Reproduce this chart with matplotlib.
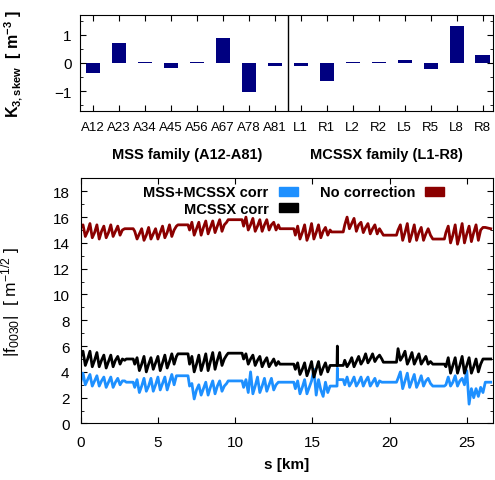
import matplotlib
matplotlib.use("Agg")
import matplotlib.pyplot as plt
from matplotlib.patches import Patch
from matplotlib.ticker import MultipleLocator

plt.rcParams['font.family'] = ['Liberation Sans', 'DejaVu Sans']
plt.rcParams['mathtext.fontset'] = 'custom'
plt.rcParams['mathtext.rm'] = 'Liberation Sans'
plt.rcParams['mathtext.it'] = 'Liberation Sans:italic'
plt.rcParams['mathtext.bf'] = 'Liberation Sans:bold'

# ---- top panel: skew octupole strengths per family ----
magnets = ['A12', 'A23', 'A34', 'A45', 'A56', 'A67', 'A78', 'A81',
           'L1', 'R1', 'L2', 'R2', 'L5', 'R5', 'L8', 'R8']
k3_skew = [-0.35, 0.70, 0.02, -0.18, 0.03, 0.87, -1.02, -0.10,
           -0.12, -0.62, 0.02, 0.05, 0.10, -0.22, 1.32, 0.27]

# ---- bottom panel: |f0030| along the ring ----
s_km = [0.00, 0.15, 0.30, 0.45, 0.60, 0.75, 0.90, 1.05, 1.20, 1.35,
        1.50, 1.65, 1.80, 1.95, 2.10, 2.25, 2.40, 2.55, 2.70, 2.85,
        2.95, 3.40,
        3.50, 3.65, 3.80, 3.95, 4.10, 4.25, 4.40, 4.55, 4.70, 4.85,
        5.00, 5.15, 5.30, 5.45, 5.60, 5.75, 5.90, 6.05, 6.20,
        6.30, 6.95,
        7.05, 7.20, 7.35, 7.50, 7.65, 7.80, 7.95, 8.10, 8.25, 8.40,
        8.55, 8.70, 8.85, 9.00, 9.15, 9.30, 9.45,
        9.55, 10.45,
        10.55, 10.70, 10.85, 11.00, 11.15, 11.30, 11.45, 11.60, 11.75, 11.90,
        12.05, 12.20, 12.35, 12.50, 12.65, 12.80,
        12.90, 13.80,
        13.90, 14.05, 14.20, 14.35, 14.50, 14.65, 14.80, 14.95, 15.10, 15.25,
        15.40, 15.55, 15.70, 15.85, 16.00, 16.15,
        16.25, 16.60, 16.62, 16.64, 17.00,
        17.10, 17.25, 17.40, 17.55, 17.70, 17.85, 18.00, 18.15, 18.30, 18.45,
        18.60, 18.75, 18.90, 19.05, 19.20, 19.35, 19.50,
        19.60, 20.45,
        20.55, 20.70, 20.85, 21.00, 21.15, 21.30, 21.45, 21.60, 21.75, 21.90,
        22.05, 22.20, 22.35, 22.50, 22.65,
        22.80, 23.55,
        23.65, 23.80, 23.95, 24.10, 24.25, 24.40, 24.55, 24.70, 24.85, 25.00,
        25.15, 25.30, 25.45, 25.60, 25.75, 25.90, 26.05,
        26.20, 26.55]

f_no_corr = [15.2, 15.4, 14.5, 14.9, 15.5, 14.4, 14.8, 15.4, 14.3, 14.9,
             15.3, 14.4, 14.8, 15.4, 14.5, 14.9, 15.3, 14.6, 15.0, 15.1,
             15.1, 15.1,
             14.9, 14.3, 14.7, 15.1, 14.2, 14.6, 15.2, 14.3, 14.7, 15.1,
             14.3, 14.8, 15.3, 14.4, 14.8, 15.4, 14.5, 15.0, 15.3,
             15.4, 15.4,
             15.0, 15.6, 14.6, 15.1, 15.6, 14.6, 15.2, 15.7, 14.7, 15.2,
             15.7, 14.8, 15.3, 15.8, 14.9, 15.4, 15.6,
             15.8, 15.8,
             15.3, 16.0, 15.0, 15.4, 15.9, 14.9, 15.3, 15.8, 14.9, 15.4,
             15.8, 15.0, 15.4, 15.6, 15.0, 15.4,
             15.1, 15.1,
             14.6, 15.3, 14.3, 14.8, 15.4, 14.2, 14.7, 15.5, 14.3, 14.8,
             15.4, 14.4, 14.9, 15.2, 14.6, 15.0,
             14.85, 14.85, 14.85, 14.85, 14.85,
             15.4, 16.0, 15.1, 15.5, 15.9, 14.9, 15.4, 15.6, 14.8, 15.2,
             15.5, 14.7, 15.1, 15.4, 14.7, 15.1, 14.8,
             14.6, 14.6,
             15.0, 15.4, 14.2, 14.8, 15.5, 14.1, 14.7, 15.4, 14.2, 14.8,
             15.2, 14.2, 14.7, 15.1, 14.6,
             14.3, 14.3,
             14.8, 15.3, 14.0, 14.6, 15.4, 13.9, 14.6, 15.5, 14.0, 14.7,
             15.3, 14.1, 14.8, 15.4, 14.2, 15.0, 15.2,
             15.2, 15.1]

f_mcssx = [5.2, 5.6, 4.5, 5.0, 5.6, 4.4, 4.9, 5.5, 4.4, 4.9,
           5.3, 4.3, 4.8, 5.3, 4.4, 4.9, 5.2, 4.6, 5.0, 4.9,
           5.0, 5.0,
           4.6, 5.1, 4.1, 4.6, 5.2, 4.0, 4.6, 5.1, 4.2, 4.7,
           5.2, 4.1, 4.7, 5.3, 4.3, 4.8, 5.4, 4.6, 5.2,
           5.4, 5.4,
           4.6, 5.2, 4.0, 4.6, 5.3, 4.1, 4.7, 5.4, 4.1, 4.8,
           5.5, 4.2, 4.9, 5.5, 4.5, 5.0, 5.3,
           5.45, 5.45,
           5.0, 5.4, 4.6, 5.0, 5.3, 4.5, 4.9, 5.2, 4.4, 4.8,
           5.1, 4.4, 4.7, 5.0, 4.5, 4.8,
           4.6, 4.6,
           4.2, 4.7, 3.8, 4.2, 4.7, 3.7, 4.2, 4.8, 3.6, 4.2,
           4.8, 3.8, 4.3, 4.7, 4.0, 4.5,
           4.5, 4.5, 6.0, 4.5, 4.5,
           4.9, 4.4, 4.7, 5.1, 4.4, 4.8, 5.2, 4.6, 4.9, 5.4,
           4.7, 5.0, 5.4, 4.8, 5.1, 5.3, 5.0,
           4.75, 4.75,
           5.8, 4.9, 5.2, 5.6, 4.6, 5.0, 5.5, 4.6, 5.0, 5.4,
           4.6, 4.9, 5.2, 4.6, 4.8,
           4.6, 4.6,
           4.4, 5.1, 3.9, 4.5, 5.1, 3.9, 4.5, 5.2, 3.9, 4.5,
           5.1, 3.9, 4.4, 5.0, 4.0, 4.6, 5.0,
           5.0, 5.0]

f_mss_mcssx = [3.2, 3.9, 3.0, 3.4, 3.8, 2.9, 3.3, 3.7, 2.9, 3.3,
               3.6, 2.8, 3.2, 3.6, 2.8, 3.2, 3.5, 3.0, 3.3, 3.3,
               3.2, 3.2,
               2.8, 3.4, 2.4, 2.9, 3.5, 2.5, 2.9, 3.5, 2.5, 3.0,
               3.6, 2.6, 3.1, 3.6, 2.6, 3.2, 3.8, 3.0, 3.7,
               3.7, 3.7,
               2.9, 3.1, 1.9, 2.6, 3.0, 2.2, 2.7, 3.2, 2.2, 2.8,
               3.3, 2.3, 2.9, 3.3, 2.5, 2.9, 3.1,
               3.3, 3.3,
               2.8, 3.4, 2.4, 4.0, 2.3, 2.9, 3.6, 2.4, 2.9, 3.5,
               2.5, 3.0, 3.5, 2.6, 3.0, 3.2,
               3.2, 3.2,
               2.7, 3.3, 2.3, 2.8, 3.4, 2.3, 2.8, 3.3, 4.2, 2.2,
               3.4, 2.6, 2.1, 3.2, 2.4, 2.9,
               2.9, 2.9, 4.3, 3.4, 3.4,
               3.0, 3.6, 2.9, 3.2, 3.6, 2.9, 3.2, 3.6, 2.9, 3.3,
               3.6, 2.9, 3.2, 3.5, 2.9, 3.3, 3.2,
               3.2, 3.2,
               3.5, 4.0, 2.7, 3.3, 3.9, 2.8, 3.3, 3.8, 2.8, 3.2,
               3.7, 2.9, 3.3, 3.5, 3.1,
               2.9, 2.9,
               3.0, 3.6, 2.9, 3.2, 3.7, 2.9, 3.3, 3.5, 3.0, 4.1,
               1.5, 2.7, 2.0, 2.7, 2.1, 2.8, 2.4,
               3.2, 3.2]

fig = plt.figure(figsize=(4.95, 4.81), dpi=100)

# top panel
ax1 = fig.add_axes([0.1616, 0.767, 0.8344, 0.200])
ax1.bar(range(len(magnets)), k3_skew, width=0.55, color='#000080', edgecolor='none')
ax1.axvline(7.5, color='black', lw=1.0)
ax1.set_xlim(-0.5, 15.4)
ax1.set_ylim(-1.7, 1.7)
ax1.set_xticks(range(len(magnets)))
ax1.set_xticklabels(magnets)
ax1.yaxis.set_major_locator(MultipleLocator(1))
ax1.yaxis.set_minor_locator(MultipleLocator(0.5))
ax1.tick_params(axis='x', which='major', direction='in', top=True, length=4, pad=7, labelsize=9.5)
ax1.tick_params(axis='y', which='both', direction='in', right=True, pad=6, labelsize=11)
ax1.tick_params(axis='y', which='major', length=4)
ax1.tick_params(axis='y', which='minor', length=2)
ax1.set_ylabel(r'$\mathbf{K_{3,skew}\ \ [\ m^{-3}\ ]}$', fontsize=11.5)
ax1.yaxis.set_label_coords(-0.133, 0.5)
for sp in ax1.spines.values():
    sp.set_linewidth(0.8)

fig.text(0.379, 0.678, 'MSS family (A12-A81)', ha='center', va='center',
         fontsize=10.5, fontweight='bold')
fig.text(0.781, 0.678, 'MCSSX family (L1-R8)', ha='center', va='center',
         fontsize=10.5, fontweight='bold')

# bottom panel
ax2 = fig.add_axes([0.163, 0.1175, 0.833, 0.5095])
ax2.plot(s_km, f_mss_mcssx, color='#1e90ff', lw=2.0)
ax2.plot(s_km, f_mcssx, color='black', lw=2.0)
ax2.plot(s_km, f_no_corr, color='#8b0000', lw=2.0)
ax2.set_xlim(0, 26.7)
ax2.set_ylim(0, 19)
ax2.xaxis.set_major_locator(MultipleLocator(5))
ax2.yaxis.set_major_locator(MultipleLocator(2))
ax2.yaxis.set_minor_locator(MultipleLocator(1))
ax2.tick_params(axis='both', which='both', direction='in', top=True, right=True, labelsize=11)
ax2.tick_params(axis='both', which='major', length=4, pad=8)
ax2.tick_params(axis='both', which='minor', length=2)
ax2.set_xlabel('s [km]', fontsize=11, fontweight='bold', labelpad=6)
ax2.set_ylabel(r'$|\mathrm{f}_{0030}|\ \ [\ \mathrm{m}^{-1/2}\ ]$', fontsize=12.5)
ax2.yaxis.set_label_coords(-0.142, 0.5)
for sp in ax2.spines.values():
    sp.set_linewidth(0.8)

handles = [Patch(color='#1e90ff'), Patch(color='black'), Patch(color='#8b0000')]
labels = ['MSS+MCSSX corr', 'MCSSX corr', 'No correction']
leg = ax2.legend(handles, labels, loc='upper left', bbox_to_anchor=(0.12, 1.025),
                 ncol=2, markerfirst=False, frameon=False, handlelength=1.3,
                 handleheight=0.55, handletextpad=0.7, columnspacing=1.5,
                 labelspacing=0.15, prop={'weight': 'bold', 'size': 10.5})

fig.savefig('out.png', dpi=100)
